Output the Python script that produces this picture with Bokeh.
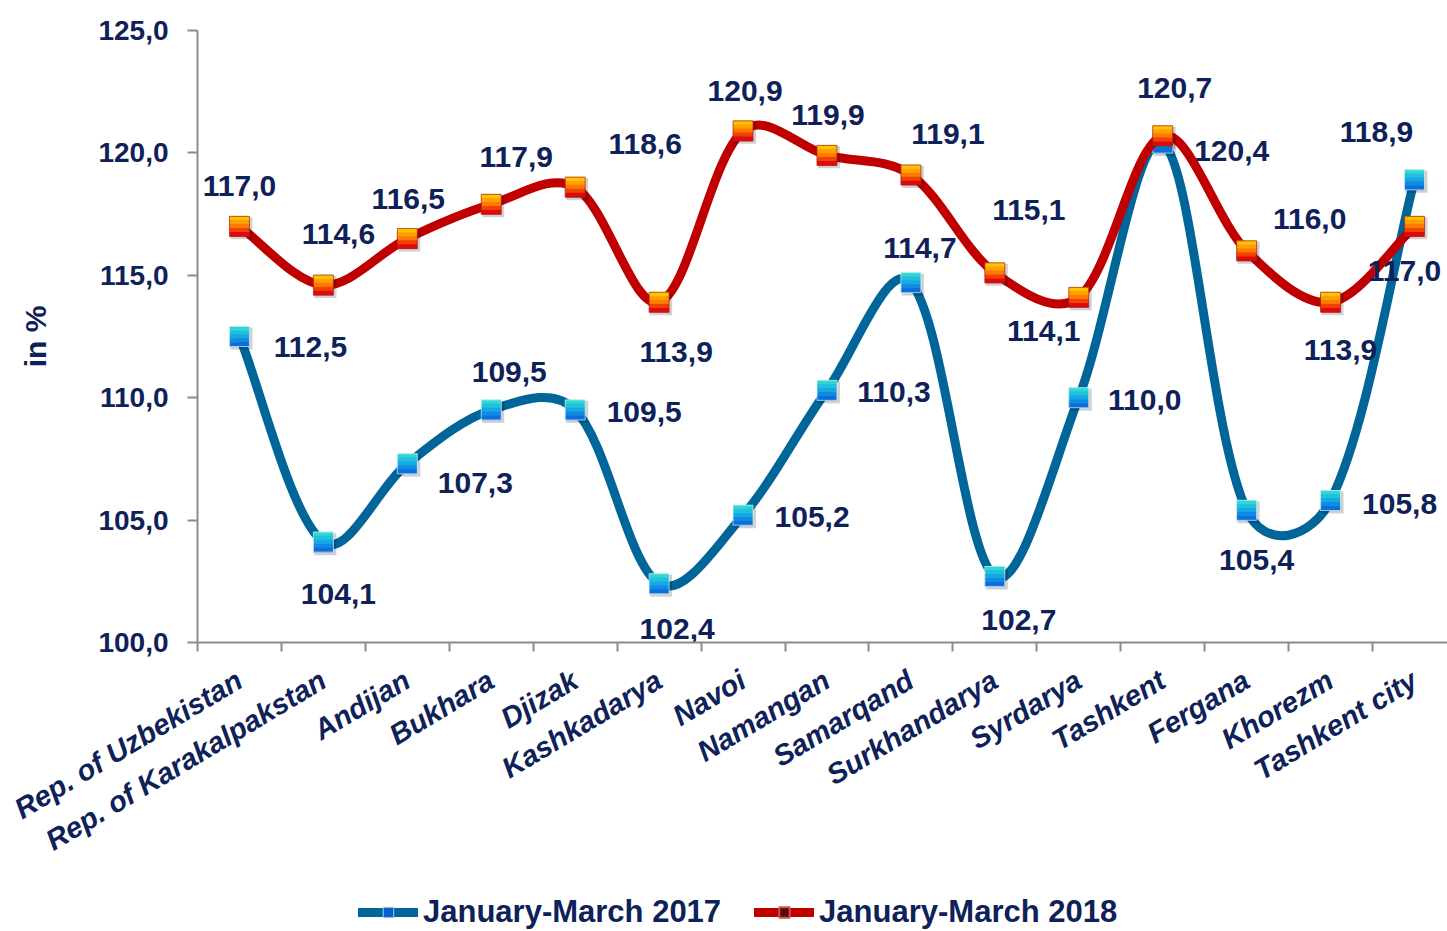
import math
import numpy as np
from bokeh.plotting import figure
from bokeh.layouts import column
from bokeh.models import Range1d, FixedTicker, Legend, LegendItem
from bokeh.core.properties import value
from bokeh.embed import file_html
from bokeh.resources import INLINE

# ---------------- data ----------------
categories = ["Rep. of Uzbekistan", "Rep. of Karakalpakstan", "Andijan", "Bukhara",
              "Djizak", "Kashkadarya", "Navoi", "Namangan", "Samarqand",
              "Surkhandarya", "Syrdarya", "Tashkent", "Fergana", "Khorezm",
              "Tashkent city"]
jan_mar_2017 = [112.5, 104.1, 107.3, 109.5, 109.5, 102.4, 105.2, 110.3, 114.7,
                102.7, 110.0, 120.4, 105.4, 105.8, 118.9]
jan_mar_2018 = [117.0, 114.6, 116.5, 117.9, 118.6, 113.9, 120.9, 119.9, 119.1,
                115.1, 114.1, 120.7, 116.0, 113.9, 117.0]
y_ticks = [100, 105, 110, 115, 120, 125]
series_names = ["January-March 2017", "January-March 2018"]

# data-label placement (screen px offsets from the point, +y = down)
label_off_2017 = [(71, 10), (15, 52), (68, 19), (18, -38), (69, 2), (18, 45), (69, 2),
                  (67, 2), (9, -35), (24, 44), (66, 2), (69, 8), (10, 50), (69, 3), (-38, -48)]
label_off_2018 = [(0, -40), (15, -51), (1, -40), (25, -47), (70, -43), (17, 50), (2, -40),
                  (1, -40), (37, -41), (34, -63), (-35, 34), (12, -48), (63, -32), (10, 48), (-10, 45)]

# ---------------- style ----------------
NAVY = "#0E2158"
C17 = "#006699"
C18 = "#C00000"
AXIS = "#8C8C8C"
FONT = "Liberation Sans"
PAGE_W, PAGE_H = 1447, 931
LEFT, TOP = 197, 30
FRAME_W, FRAME_H = PAGE_W - LEFT, 612
BOTTOM = 250
CAT_PX = 83.93
Y0, Y1 = 100, 125
x_start = -0.5
x_end = x_start + FRAME_W / CAT_PX
px_x = CAT_PX
px_y = FRAME_H / (Y1 - Y0)

p = figure(frame_width=FRAME_W, frame_height=FRAME_H,
           x_range=Range1d(x_start, x_end), y_range=Range1d(Y0, Y1),
           output_backend="svg", toolbar_location=None,
           min_border_left=LEFT, min_border_right=0, min_border_top=TOP,
           min_border_bottom=BOTTOM)
p.outline_line_color = None
p.xgrid.visible = False
p.ygrid.visible = False
p.background_fill_color = "white"
p.border_fill_color = "white"

# y axis
yax = p.yaxis[0]
yax.ticker = FixedTicker(ticks=y_ticks, minor_ticks=[])
yax.major_label_overrides = {t: f"{t:.1f}".replace(".", ",") for t in y_ticks}
yax.major_label_text_font = FONT
yax.major_label_text_font_size = "28px"
yax.major_label_text_font_style = "bold"
yax.major_label_text_color = NAVY
yax.major_tick_out = 10
yax.major_tick_in = 0
yax.major_label_standoff = 19
yax.axis_line_color = AXIS
yax.axis_line_width = 2
yax.major_tick_line_color = AXIS
yax.major_tick_line_width = 2
yax.axis_label = "in %"
yax.axis_label_text_font = FONT
yax.axis_label_text_font_size = "30px"
yax.axis_label_text_font_style = "bold"
yax.axis_label_text_color = NAVY
yax.axis_label_standoff = 43

# x axis
xs = list(range(len(categories)))
xax = p.xaxis[0]
xax.ticker = FixedTicker(ticks=xs, minor_ticks=[i - 0.5 for i in range(len(categories) + 1)])
xax.major_label_overrides = {i: c for i, c in enumerate(categories)}
xax.major_label_orientation = math.radians(31)
xax.major_label_text_font = FONT
xax.major_label_text_font_size = "29px"
xax.major_label_text_font_style = "bold italic"
xax.major_label_text_color = NAVY
xax.major_tick_out = 0
xax.major_tick_in = 0
xax.minor_tick_out = 9
xax.minor_tick_in = 0
xax.minor_tick_line_color = AXIS
xax.minor_tick_line_width = 2
xax.major_label_standoff = 26
xax.axis_line_color = AXIS
xax.axis_line_width = 2


def smooth_segments(ys):
    """Excel-like smoothed line as cubic bezier segments."""
    n = len(ys)
    pts = [(x * px_x, y * px_y) for x, y in zip(xs, ys)]

    def d(a, b):
        return math.hypot(pts[a][0] - pts[b][0], pts[a][1] - pts[b][1])

    seg = dict(x0=[], y0=[], x1=[], y1=[], cx0=[], cy0=[], cx1=[], cy1=[])
    for i in range(n - 1):
        a, b = i, i + 1
        pa, pb = max(a - 1, 0), min(b + 1, n - 1)
        dab = d(a, b)
        dpa = d(pa, a)
        dbn = d(b, pb)
        f1 = 0.5 / 6 + 0.5 * (dab / (dpa + dab) / 3)
        f2 = 0.5 / 6 + 0.5 * (dab / (dab + dbn) / 3)
        seg["x0"].append(xs[a]); seg["y0"].append(ys[a])
        seg["x1"].append(xs[b]); seg["y1"].append(ys[b])
        seg["cx0"].append(xs[a] + (xs[b] - xs[pa]) * f1)
        seg["cy0"].append(ys[a] + (ys[b] - ys[pa]) * f1)
        seg["cx1"].append(xs[b] - (xs[pb] - xs[a]) * f2)
        seg["cy1"].append(ys[b] - (ys[pb] - ys[a]) * f2)
    return seg


def gradient_markers(ys, stops, edge):
    size = 20
    nb = 5
    bh = size / nb
    cols = []
    a = np.array([int(stops[0][i:i + 2], 16) for i in (1, 3, 5)], float)
    b = np.array([int(stops[1][i:i + 2], 16) for i in (1, 3, 5)], float)
    c = np.array([int(stops[2][i:i + 2], 16) for i in (1, 3, 5)], float)
    for k in range(nb):
        t = k / (nb - 1)
        col = a + (b - a) * (t * 2) if t <= 0.5 else b + (c - b) * ((t - 0.5) * 2)
        cols.append("#%02x%02x%02x" % tuple(int(round(v)) for v in col))
    # soft shadow
    p.rect(x=[x + 2 / px_x for x in xs], y=[y - 2 / px_y for y in ys], width=size + 2, height=size + 2,
           width_units="screen", height_units="screen", fill_color="#000000",
           fill_alpha=0.18, line_color=None)
    for k in range(nb):
        off = -size / 2 + bh * (k + 0.5)  # screen px, +down
        p.rect(x=xs, y=[y - off / px_y for y in ys], width=size, height=bh + 0.6,
               width_units="screen", height_units="screen", fill_color=cols[k],
               line_color=None)
    p.scatter(x=xs, y=ys, marker="square", size=size, fill_color=None,
              line_color=edge, line_width=1, line_alpha=0.7)


# 2017
p.bezier(**smooth_segments(jan_mar_2017), line_color=C17, line_width=9, line_cap="round")
gradient_markers(jan_mar_2017, ["#2ED8D4", "#16A8E6", "#0A6EDC"], "#D8ECF4")
# 2018
p.bezier(**smooth_segments(jan_mar_2018), line_color=C18, line_width=9, line_cap="round")
gradient_markers(jan_mar_2018, ["#FFC400", "#FF7A00", "#E00A0A"], "#A02020")


def fmt(v):
    return f"{v:.1f}".replace(".", ",")


for vals, offs in ((jan_mar_2017, label_off_2017), (jan_mar_2018, label_off_2018)):
    p.text(x=xs, y=vals, text=[fmt(v) for v in vals],
           x_offset=[o[0] for o in offs], y_offset=[o[1] for o in offs],
           text_align="center", text_baseline="middle",
           text_font=value(FONT), text_font_style="bold", text_font_size="30px",
           text_color=NAVY)

# ---------------- legend strip (separate figure under the chart) ----------------
# Its ranges exclude the series values, so its renderers serve only as legend keys.
LEG_FIG_H = PAGE_H - (TOP + FRAME_H + BOTTOM)
lg = figure(width=PAGE_W, height=LEG_FIG_H, x_range=Range1d(0, 1), y_range=Range1d(0, 1),
            output_backend="svg", toolbar_location=None,
            x_axis_location=None, y_axis_location=None,
            min_border_left=0, min_border_right=0, min_border_top=0, min_border_bottom=0)
lg.outline_line_color = None
lg.xgrid.visible = False
lg.ygrid.visible = False

l17 = lg.line(x=xs, y=jan_mar_2017, line_color=C17, line_width=9, line_cap="round")
m17 = lg.scatter(x=xs, y=jan_mar_2017, marker="square", size=19, fill_color="#0A5EC8",
                 line_color="#A8C8EC")
l18 = lg.line(x=xs, y=jan_mar_2018, line_color=C18, line_width=9, line_cap="round")
m18 = lg.scatter(x=xs, y=jan_mar_2018, marker="square", size=19, fill_color="#560A0A",
                 line_color="#D05050", line_width=2)
LEG_H = 30
LEG_TOP_IN_STRIP = 8
legend = Legend(items=[LegendItem(label=series_names[0], renderers=[l17, m17]),
                       LegendItem(label=series_names[1], renderers=[l18, m18])],
                orientation="horizontal",
                location=(358 - LEFT, LEG_FIG_H - LEG_H - LEG_TOP_IN_STRIP),
                glyph_width=60, glyph_height=26, label_standoff=5, spacing=33,
                padding=0, margin=0, border_line_color=None, background_fill_alpha=0,
                label_text_font=FONT, label_text_font_size="31px",
                label_text_font_style="bold", label_text_color=NAVY,
                label_height=LEG_H)
lg.add_layout(legend, "center")

layout = column(p, lg, spacing=0)
open("out.html", "w").write(file_html(layout, INLINE))
